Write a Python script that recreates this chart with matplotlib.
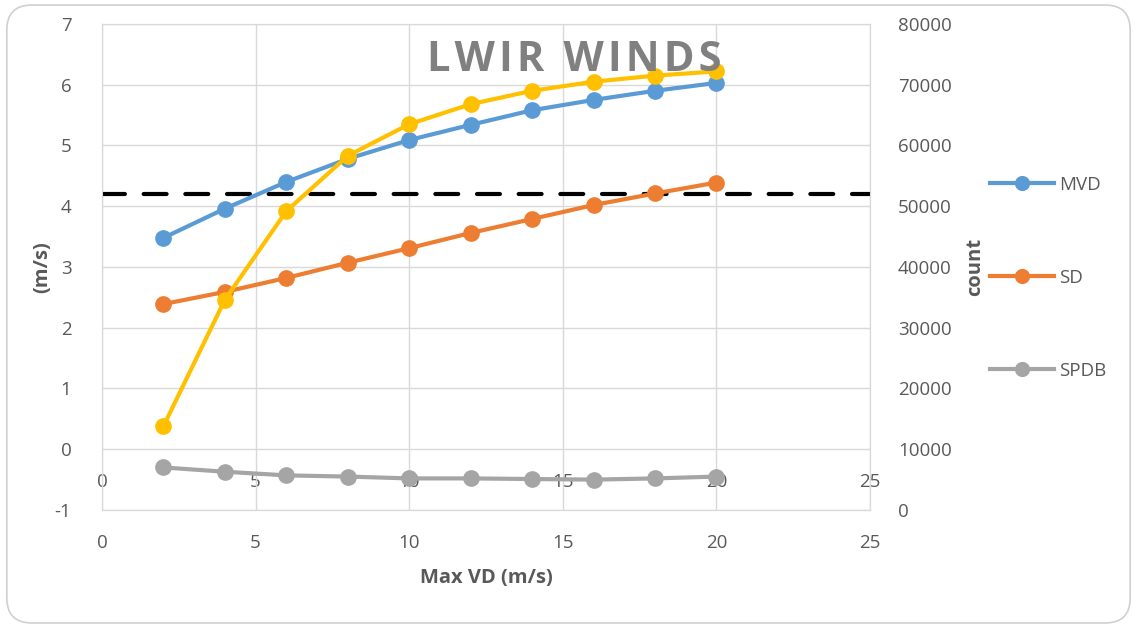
import matplotlib
matplotlib.use('Agg')
import matplotlib.pyplot as plt
from matplotlib.patches import FancyBboxPatch

plt.rcParams['font.family'] = ['Open Sans', 'DejaVu Sans']
plt.rcParams['axes.unicode_minus'] = False

# data
max_vd = [2, 4, 6, 8, 10, 12, 14, 16, 18, 20]
mvd = [3.48, 3.96, 4.40, 4.78, 5.09, 5.34, 5.58, 5.75, 5.90, 6.03]
sd = [2.39, 2.59, 2.82, 3.07, 3.31, 3.56, 3.79, 4.02, 4.21, 4.39]
spdb = [-0.30, -0.37, -0.43, -0.45, -0.48, -0.48, -0.49, -0.50, -0.48, -0.45]
count = [13800, 34600, 49200, 58300, 63500, 66800, 69000, 70500, 71500, 72200]
threshold = 4.2

xticks = [0, 5, 10, 15, 20, 25]
yticks = [-1, 0, 1, 2, 3, 4, 5, 6, 7]
cticks = list(range(0, 80001, 10000))

txt = '#595959'
grid = '#d9d9d9'
fs = 13.5
lfs = 14.5

fig = plt.figure(figsize=(11.37, 6.28), dpi=100)
fig.patches.append(FancyBboxPatch((0.006, 0.008), 0.988, 0.984,
                                  boxstyle='round,pad=0,rounding_size=0.022',
                                  transform=fig.transFigure, fc='white',
                                  ec='#d0d0d0', lw=1.2, zorder=-10,
                                  mutation_aspect=1137 / 628))

ax = fig.add_axes([0.0897, 0.1879, 0.6755, 0.7739])
ax.patch.set_alpha(0)
ax2 = ax.twinx()

lw = 3.0
ms = 11
ax.axhline(threshold, color='black', lw=3, ls=(0, (5.5, 4.5)),
           dash_capstyle='round', zorder=3)
l1, = ax.plot(max_vd, mvd, color='#5B9BD5', lw=lw, marker='o', ms=ms,
              label='MVD', zorder=4)
l2, = ax.plot(max_vd, sd, color='#ED7D31', lw=lw, marker='o', ms=ms,
              label='SD', zorder=4)
l3, = ax.plot(max_vd, spdb, color='#A5A5A5', lw=lw, marker='o', ms=ms,
              label='SPDB', zorder=4)
ax2.plot(max_vd, count, color='#FFC000', lw=lw, marker='o', ms=ms)

ax.set_xlim(0, 25)
ax.set_ylim(-1, 7)
ax2.set_ylim(0, 80000)
ax.set_xticks(xticks)
ax.set_yticks(yticks)
ax2.set_yticks(cticks)
ax.grid(True, color=grid, lw=1)
ax.set_axisbelow(True)

for a in (ax, ax2):
    for s in a.spines.values():
        s.set_color(grid)
    a.tick_params(length=0, labelsize=fs, labelcolor=txt)
ax.tick_params(axis='x', pad=17)
ax.tick_params(axis='y', pad=22)
ax2.tick_params(axis='y', pad=20)

# inner horizontal axis labels where y = 0
sec = ax.secondary_xaxis(1 / 8)
sec.set_xticks(xticks)
sec.spines['bottom'].set_visible(False)
sec.tick_params(length=0, labelsize=fs, labelcolor=txt, pad=17)

ax.set_xlabel('Max VD (m/s)', fontsize=lfs, fontweight='bold', color=txt,
              labelpad=12)
ax.set_ylabel('(m/s)', fontsize=lfs, fontweight='bold', color=txt, labelpad=2)
ax2.set_ylabel('count', fontsize=lfs, fontweight='bold', color=txt,
               labelpad=10)

title = '\u200a'.join('LWIR WINDS')
fig.text(0.505, 0.903, title, fontsize=30, fontweight='bold',
         color='#808080', ha='center', va='center')

fig.legend(handles=[l1, l2, l3], loc='center left',
           bbox_to_anchor=(0.856, 0.558), frameon=False, fontsize=fs,
           labelcolor=txt, labelspacing=4.0, handlelength=3.4,
           handletextpad=0.3, markerscale=0.9)

fig.savefig('out.png', dpi=100)
